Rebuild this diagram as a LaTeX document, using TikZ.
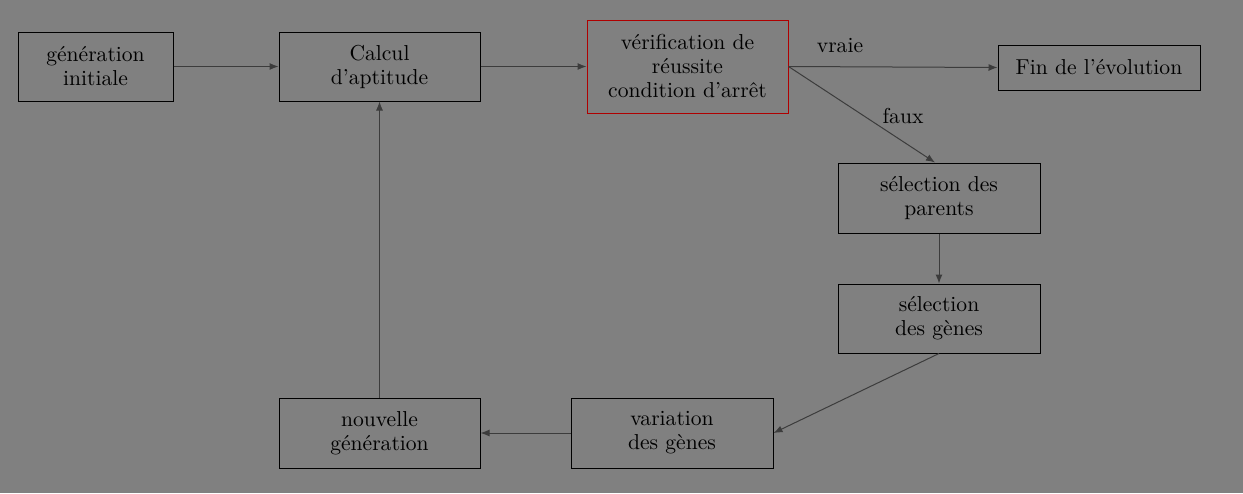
\documentclass[tikz,border=0pt]{standalone}
\usepackage{fontspec}
\usetikzlibrary{arrows.meta}
\definecolor{bg}{RGB}{128,128,128}
\definecolor{arr}{RGB}{60,60,60}
\definecolor{redb}{RGB}{175,0,0}
\begin{document}
\begin{tikzpicture}[x=0.5pt,y=-0.5pt,
  box/.style={draw=black,line width=0.5pt,align=center,inner sep=0pt,font=\fontsize{10.8}{12}\selectfont},
  conn/.style={draw=arr,line width=0.5pt,-{Latex[length=4.5pt,width=3.5pt]}},
  lbl/.style={font=\fontsize{10.8}{12}\selectfont,inner sep=0pt}]
\fill[bg] (0,0) rectangle (1243,493);
\useasboundingbox (0,0) rectangle (1243,493);
\node[box,minimum width=77.5pt,minimum height=34.5pt] (init) at (95.5,66.5) {génération\\initiale};
\node[box,minimum width=100.5pt,minimum height=34.5pt] (calc) at (379.5,66.5) {Calcul\\d’aptitude};
\node[box,draw=redb,minimum width=100.5pt,minimum height=46.5pt] (verif) at (687.5,66.5) {vérification de\\réussite\\condition d’arrêt};
\node[box,minimum width=101pt,minimum height=22.5pt] (fin) at (1099,67.5) {Fin de l’évolution};
\node[box,minimum width=101pt,minimum height=35pt] (par) at (939,198) {sélection des\\parents};
\node[box,minimum width=101pt,minimum height=34.5pt] (gen) at (939,318.5) {sélection\\des gènes};
\node[box,minimum width=101pt,minimum height=35pt] (var) at (672,433) {variation\\des gènes};
\node[box,minimum width=100.5pt,minimum height=35pt] (nouv) at (379.5,433) {nouvelle\\génération};
\draw[conn] (init) -- (calc);
\draw[conn] (calc) -- (verif);
\draw[conn] (verif.east) -- (fin.west);
\draw[conn] (verif.east) -- ([xshift=-2pt]par.north);
\draw[conn] (par) -- (gen);
\draw[conn] (gen.south) -- (var.east);
\draw[conn] (var) -- (nouv);
\draw[conn] (nouv) -- (calc);
\node[lbl] (vraie) at (840,46) {vraie};
\node[lbl] (faux) at (903,116) {faux};
\end{tikzpicture}
\end{document}
